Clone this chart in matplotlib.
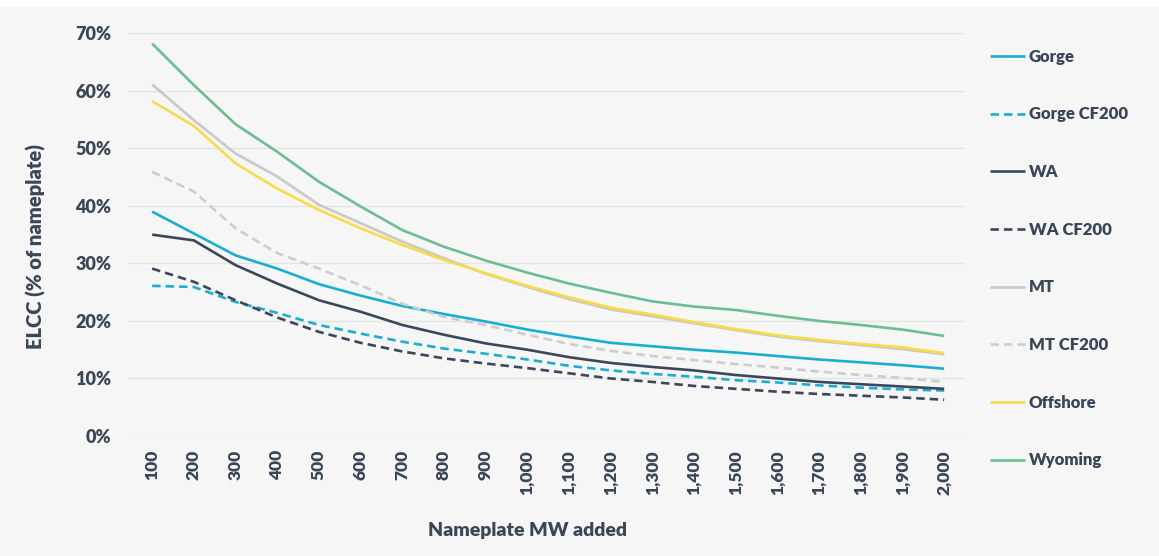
import matplotlib
matplotlib.use("Agg")
import matplotlib.pyplot as plt
from matplotlib.patches import Rectangle

# ---------------- data ----------------
mw_added = [100, 200, 300, 400, 500, 600, 700, 800, 900, 1000,
            1100, 1200, 1300, 1400, 1500, 1600, 1700, 1800, 1900, 2000]
x_tick_labels = ["100", "200", "300", "400", "500", "600", "700", "800", "900", "1,000",
                 "1,100", "1,200", "1,300", "1,400", "1,500", "1,600", "1,700", "1,800", "1,900", "2,000"]
y_ticks = [0, 10, 20, 30, 40, 50, 60, 70]
y_tick_labels = ["0%", "10%", "20%", "30%", "40%", "50%", "60%", "70%"]

gorge = [39.0, 35.2, 31.4, 29.1, 26.4, 24.4, 22.6, 21.2, 19.9, 18.5,
         17.3, 16.2, 15.6, 15.0, 14.5, 13.9, 13.3, 12.8, 12.3, 11.7]
gorge_cf200 = [26.1, 25.9, 23.3, 21.4, 19.3, 17.8, 16.4, 15.2, 14.3, 13.3,
               12.2, 11.4, 10.8, 10.3, 9.7, 9.3, 8.8, 8.4, 8.1, 7.9]
wa = [35.0, 34.0, 29.7, 26.5, 23.6, 21.6, 19.3, 17.6, 16.1, 15.0,
      13.7, 12.7, 12.0, 11.4, 10.6, 10.0, 9.4, 9.0, 8.6, 8.2]
wa_cf200 = [29.1, 26.8, 23.6, 20.6, 18.1, 16.2, 14.7, 13.5, 12.6, 11.8,
            10.9, 10.0, 9.4, 8.7, 8.2, 7.7, 7.3, 7.0, 6.7, 6.3]
mt = [61.1, 54.9, 49.1, 45.1, 40.2, 37.0, 33.8, 30.9, 28.2, 25.9,
      23.8, 22.0, 20.8, 19.6, 18.4, 17.3, 16.5, 15.8, 15.1, 14.2]
mt_cf200 = [45.9, 42.5, 36.1, 31.8, 29.1, 26.2, 23.0, 20.7, 19.3, 17.6,
            16.0, 14.8, 13.9, 13.2, 12.5, 11.9, 11.2, 10.6, 10.1, 9.4]
offshore = [58.2, 53.9, 47.4, 43.0, 39.3, 36.1, 33.2, 30.6, 28.3, 26.1,
            24.1, 22.3, 21.1, 19.8, 18.6, 17.5, 16.7, 16.0, 15.4, 14.4]
wyoming = [68.2, 61.0, 54.2, 49.4, 44.2, 39.9, 35.8, 32.9, 30.5, 28.4,
           26.5, 24.9, 23.4, 22.5, 21.9, 20.9, 20.0, 19.3, 18.5, 17.4]

series_names = ["Gorge", "Gorge CF200", "WA", "WA CF200", "MT", "MT CF200", "Offshore", "Wyoming"]
series_values = [gorge, gorge_cf200, wa, wa_cf200, mt, mt_cf200, offshore, wyoming]
series_colors = ["#17afd2", "#17afd2", "#3a4859", "#3a4859", "#c9c9c9", "#cdcdcd", "#f7dc48", "#6cbd93"]
series_styles = ["-", "--", "-", "--", "-", "--", "-", "-"]

text_color = "#3a4657"
bg_color = "#f6f6f6"

plt.rcParams["font.family"] = ["Lato", "DejaVu Sans"]

fig = plt.figure(figsize=(11.59, 5.56), dpi=100, facecolor="white")
fig.patches.append(Rectangle((0, 0), 1, 1 - 7 / 556, transform=fig.transFigure,
                             facecolor=bg_color, edgecolor="none", zorder=-10))

ax = fig.add_axes([128 / 1159, 120 / 556, (965 - 128) / 1159, (436 - 33.3) / 556])
ax.set_facecolor(bg_color)
ax.patch.set_alpha(0)

for name, vals, col, ls in zip(series_names, series_values, series_colors, series_styles):
    kw = dict(color=col, lw=1.9, label=name, solid_capstyle="butt")
    if ls == "--":
        kw["linestyle"] = (0, (3.2, 1.9))
        kw["dash_capstyle"] = "butt"
    ax.plot(mw_added, vals, **kw)

ax.set_xlim(42, 2050)
ax.set_ylim(0, 70)
ax.set_yticks(y_ticks)
ax.set_yticklabels(y_tick_labels)
ax.set_xticks(mw_added)
ax.set_xticklabels(x_tick_labels, rotation=90)
ax.grid(axis="y", color="#e4e4e4", lw=1.0)
ax.set_axisbelow(True)
for s in ax.spines.values():
    s.set_visible(False)
ax.tick_params(axis="both", length=0, colors=text_color)
ax.tick_params(axis="y", pad=12, labelsize=13)
ax.tick_params(axis="x", pad=10, labelsize=12.5)
for lab in ax.get_xticklabels() + ax.get_yticklabels():
    lab.set_fontweight("heavy")
    lab.set_color(text_color)
for lab in ax.get_xticklabels():
    lab.set_va("top")

ax.set_ylabel("ELCC (% of nameplate)", fontsize=14.5, fontweight="heavy", color=text_color)
ax.yaxis.set_label_coords(-(128 - 46) / (965 - 128), 0.47)
ax.set_xlabel("Nameplate MW added", fontsize=14, fontweight="heavy", color=text_color)
ax.xaxis.set_label_coords(0.477, -(522 - 436) / (436 - 33.3))

leg = fig.legend(loc="upper left", bbox_to_anchor=(983 / 1159, 1 - 42 / 556),
                 frameon=False, fontsize=12, handlelength=2.1, handletextpad=0.25,
                 labelspacing=2.50, borderaxespad=0)
for t in leg.get_texts():
    t.set_fontweight("heavy")
    t.set_color(text_color)

fig.savefig("out.png", dpi=100, facecolor=fig.get_facecolor())
